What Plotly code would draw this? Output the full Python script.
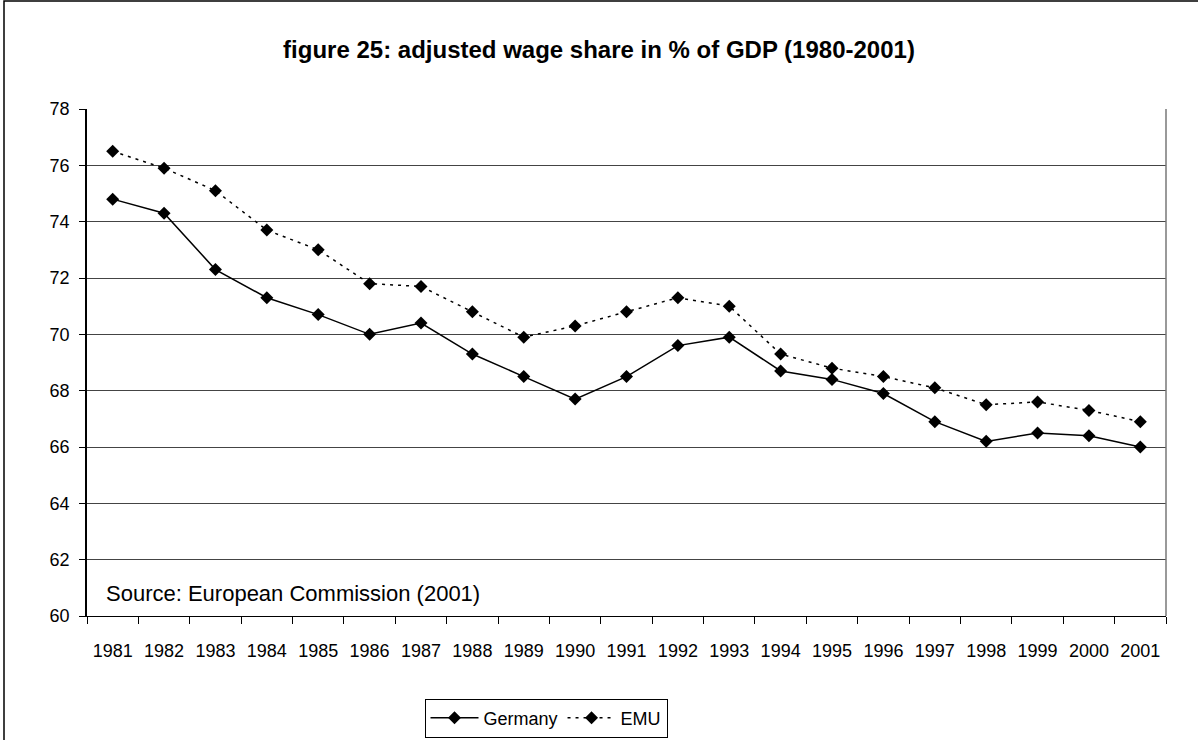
import plotly.graph_objects as go

years = [str(y) for y in range(1981, 2002)]
germany = [74.8, 74.3, 72.3, 71.3, 70.7, 70.0, 70.4, 69.3, 68.5, 67.7, 68.5,
           69.6, 69.9, 68.7, 68.4, 67.9, 66.9, 66.2, 66.5, 66.4, 66.0]
emu = [76.5, 75.9, 75.1, 73.7, 73.0, 71.8, 71.7, 70.8, 69.9, 70.3, 70.8,
       71.3, 71.0, 69.3, 68.8, 68.5, 68.1, 67.5, 67.6, 67.3, 66.9]

W, H = 1198, 740
L, R, T, B = 87, 32, 109, 124
pw, ph = W - L - R, H - T - B

def px2x(px):
    return (px - L) / pw

def py2y(py):
    return (H - B - py) / ph

fig = go.Figure()
fig.add_trace(go.Scatter(x=years, y=germany, name="Germany", mode="lines+markers",
                         line=dict(color="black", width=1.5),
                         marker=dict(symbol="diamond", size=10, color="black")))
fig.add_trace(go.Scatter(x=years, y=emu, name="EMU", mode="lines+markers",
                         line=dict(color="black", width=1.5, dash="3px,5px"),
                         marker=dict(symbol="diamond", size=10, color="black")))

fig.update_layout(
    width=W, height=H,
    margin=dict(l=L, r=R, t=T, b=B, autoexpand=False),
    paper_bgcolor="white", plot_bgcolor="white",
    font=dict(family="Arial, Liberation Sans, sans-serif", size=18, color="black"),
    title=dict(text="<b>figure 25: adjusted wage share in % of GDP (1980-2001)</b>",
               x=0.5, xref="container", xanchor="center", y=1 - 50 / H, yanchor="middle",
               font=dict(size=24, color="black")),
    showlegend=True,
    legend=dict(orientation="h", x=546 / W, xref="container", xanchor="center",
                y=1 - 718 / H, yref="container", yanchor="middle",
                bordercolor="black", borderwidth=1, font=dict(size=18),
                itemwidth=48, tracegroupgap=0),
    xaxis=dict(type="category", range=[-0.5, len(years) - 0.5],
               showline=True, linecolor="black", linewidth=1,
               ticks="outside", tickson="boundaries", ticklen=7, tickcolor="black",
               showgrid=False, tickfont=dict(size=18), tickangle=0, ticklabelstandoff=18,
               automargin=False),
    yaxis=dict(range=[60, 78], dtick=2, showline=True, linecolor="black", linewidth=1.5,
               ticks="outside", ticklen=6, tickcolor="black",
               showgrid=True, gridcolor="#444", gridwidth=1, zeroline=False,
               tickfont=dict(size=18), ticklabelstandoff=6, automargin=False),
)

fig.add_shape(type="line", xref="paper", yref="paper", x0=1, x1=1, y0=0, y1=1,
              line=dict(color="#777", width=1.5))
fig.add_shape(type="rect", xref="paper", yref="paper",
              x0=px2x(4), x1=px2x(W + 5), y0=py2y(H + 5), y1=py2y(1),
              line=dict(color="black", width=1.5), layer="below")

fig.add_annotation(text="Source: European Commission (2001)", xref="paper", yref="paper",
                   x=px2x(104), y=py2y(593), xanchor="left", yanchor="middle",
                   showarrow=False, font=dict(size=22, color="black"))

fig.write_html("out.html", config={"displayModeBar": False},
               post_script="document.body.style.margin='0';")
